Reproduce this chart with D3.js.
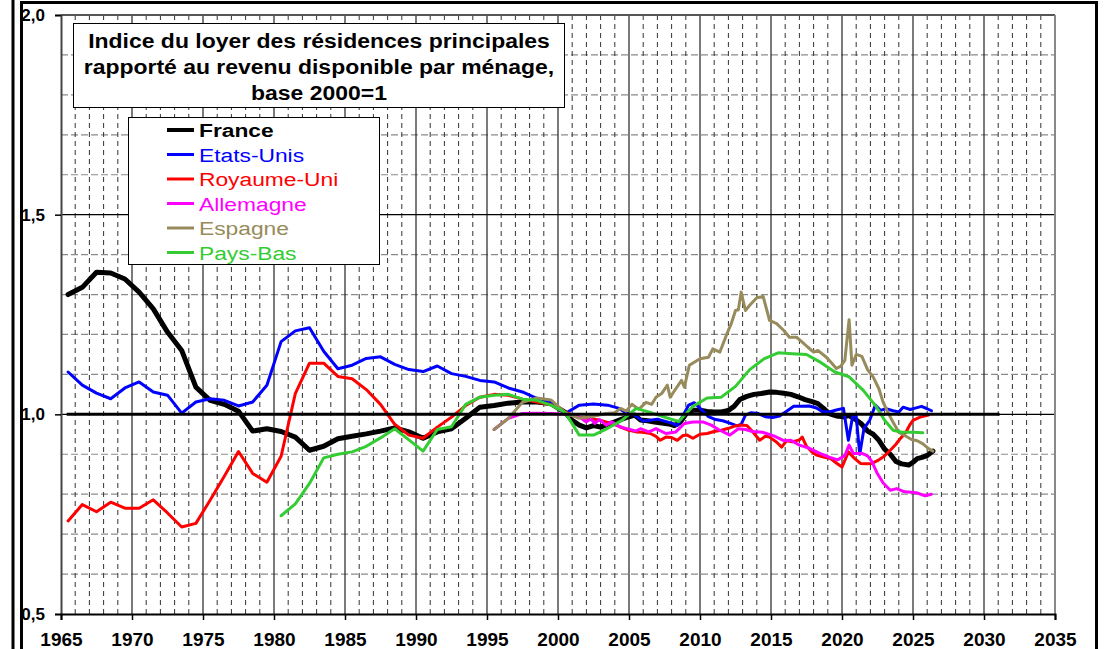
<!DOCTYPE html>
<html>
<head>
<meta charset="utf-8">
<script src="https://cdn.jsdelivr.net/npm/d3@7"></script>
<style>
  body { margin: 0; background: #fff; }
  svg { display: block; font-family: "Liberation Sans", Arial, sans-serif; }
</style>
</head>
<body>
<svg class="chart" width="1106" height="649"></svg>
<script>
// chart text
const titleLines = [
  'Indice du loyer des résidences principales',
  'rapporté au revenu disponible par ménage,',
  'base 2000=1'
];
const seriesNames = ['France', 'Etats-Unis', 'Royaume-Uni', 'Allemagne', 'Espagne', 'Pays-Bas'];
const seriesColors = ['#000000', '#0000ff', '#ff0000', '#ff00ff', '#978b5b', '#33cc33'];
const xTickYears = [1965, 1970, 1975, 1980, 1985, 1990, 1995, 2000, 2005, 2010, 2015, 2020, 2025, 2030, 2035];
const yTickValues = [0.5, 1.0, 1.5, 2.0];

// series values as [year, index]
const france = [
  [1965.5,1.300],[1966.5,1.318],[1967.5,1.356],[1968.5,1.354],[1969.5,1.339],[1970.5,1.306],
  [1971.5,1.264],[1972.5,1.206],[1973.5,1.160],[1974.5,1.068],[1975.5,1.035],[1976.5,1.025],
  [1977.5,1.008],[1978.5,0.958],[1979.5,0.964],[1980.5,0.957],[1981.5,0.943],[1982.5,0.910],
  [1983.5,0.920],[1984.5,0.939],[1985.5,0.945],[1986.5,0.951],[1987.5,0.958],[1988.5,0.966],
  [1989.5,0.956],[1990.5,0.940],[1991.5,0.956],[1992.5,0.964],[1993.5,0.990],[1994.5,1.018],
  [1995.5,1.022],[1996.5,1.028],[1997.5,1.031],[1998.5,1.031],[1999.5,1.027],[2000.5,1.005],
  [2001.0,0.985],[2001.5,0.973],[2002.0,0.966],[2002.5,0.972],[2003.0,0.968],[2003.5,0.975],
  [2004.0,0.981],[2004.5,0.988],[2005.0,0.994],[2005.4,0.998],[2005.8,0.986],[2006.3,0.984],
  [2006.8,0.981],[2007.3,0.978],[2007.8,0.976],[2008.2,0.972],[2008.6,0.980],[2009.1,1.005],
  [2009.5,1.010],[2010.0,1.010],[2010.5,1.007],[2011.0,1.006],[2011.5,1.006],[2012.0,1.010],
  [2012.4,1.020],[2012.8,1.037],[2013.3,1.045],[2013.8,1.050],[2014.3,1.052],[2014.9,1.056],
  [2015.4,1.055],[2015.9,1.053],[2016.4,1.050],[2016.9,1.044],[2017.4,1.037],[2017.9,1.032],
  [2018.3,1.027],[2018.7,1.015],[2019.1,1.002],[2019.6,0.996],[2020.1,0.994],[2020.5,0.997],
  [2021.0,0.986],[2021.4,0.975],[2021.8,0.958],[2022.2,0.950],[2022.6,0.935],[2023.0,0.913],
  [2023.4,0.900],[2023.8,0.882],[2024.2,0.876],[2024.7,0.873],[2025.0,0.880],[2025.3,0.889],
  [2025.7,0.893],[2026.0,0.897],[2026.4,0.908]
];
const etatsUnis = [
  [1965.5,1.106],[1966.5,1.073],[1967.5,1.053],[1968.5,1.039],[1969.5,1.066],[1970.5,1.081],
  [1971.5,1.056],[1972.5,1.048],[1973.5,1.003],[1974.5,1.031],[1975.5,1.039],[1976.5,1.035],
  [1977.5,1.021],[1978.5,1.031],[1979.5,1.073],[1980.5,1.182],[1981.5,1.209],[1982.5,1.217],
  [1983.5,1.158],[1984.5,1.114],[1985.5,1.123],[1986.5,1.140],[1987.5,1.144],[1988.5,1.125],
  [1989.5,1.112],[1990.5,1.107],[1991.5,1.121],[1992.5,1.102],[1993.5,1.095],[1994.5,1.085],
  [1995.5,1.081],[1996.5,1.066],[1997.5,1.056],[1998.5,1.040],[1999.5,1.031],[2000.5,1.002],
  [2001.5,1.023],[2002.5,1.026],[2003.5,1.023],[2004.3,1.015],[2004.8,1.003],[2005.3,1.000],
  [2006.0,0.983],[2006.5,0.985],[2007.0,0.988],[2007.5,0.983],[2008.0,0.978],[2008.4,0.972],
  [2008.7,0.990],[2009.2,1.023],[2009.6,1.029],[2010.1,1.012],[2010.6,0.994],[2011.1,0.987],
  [2011.6,0.984],[2012.1,0.978],[2012.6,0.971],[2012.9,0.975],[2013.2,0.998],[2013.6,1.004],
  [2014.1,1.002],[2014.6,0.994],[2015.1,0.992],[2015.6,0.996],[2016.1,1.008],[2016.6,1.020],
  [2017.1,1.020],[2017.7,1.021],[2018.2,1.016],[2018.6,1.007],[2019.1,1.006],[2019.6,1.011],
  [2020.1,1.015],[2020.45,0.935],[2020.75,0.995],[2021.0,0.995],[2021.25,0.900],[2021.55,0.965],
  [2021.95,0.985],[2022.35,1.023],[2022.7,1.010],[2023.1,1.014],[2023.6,1.009],[2024.0,1.006],
  [2024.3,1.018],[2024.8,1.012],[2025.1,1.015],[2025.6,1.020],[2026.0,1.014],[2026.3,1.009]
];
const royaumeUni = [
  [1965.5,0.733],[1966.5,0.774],[1967.5,0.756],[1968.5,0.780],[1969.5,0.765],[1970.5,0.765],
  [1971.5,0.786],[1972.5,0.753],[1973.5,0.718],[1974.5,0.727],[1975.5,0.785],[1976.5,0.845],
  [1977.5,0.907],[1978.5,0.852],[1979.5,0.830],[1980.5,0.895],[1981.5,1.052],[1982.5,1.128],
  [1983.5,1.128],[1984.5,1.095],[1985.5,1.089],[1986.5,1.062],[1987.5,1.025],[1988.5,0.975],
  [1989.5,0.948],[1990.5,0.940],[1991.5,0.968],[1992.5,0.993],[1993.5,1.022],[1994.5,1.043],
  [1995.5,1.050],[1996.5,1.048],[1997.5,1.038],[1998.5,1.031],[1999.5,1.024],[2000.5,1.006],
  [2001.0,0.998],[2001.5,0.993],[2002.0,0.990],[2002.5,0.988],[2003.0,0.985],[2003.5,0.980],
  [2004.0,0.974],[2004.5,0.967],[2005.0,0.960],[2005.5,0.956],[2006.0,0.955],[2006.5,0.952],
  [2006.9,0.945],[2007.2,0.935],[2007.6,0.943],[2008.0,0.942],[2008.4,0.935],[2008.8,0.947],
  [2009.1,0.948],[2009.5,0.940],[2010.0,0.950],[2010.5,0.952],[2011.0,0.957],[2011.5,0.960],
  [2012.0,0.965],[2012.4,0.970],[2012.8,0.973],[2013.3,0.972],[2013.7,0.957],[2014.2,0.935],
  [2014.6,0.945],[2014.9,0.943],[2015.4,0.930],[2015.75,0.918],[2016.1,0.934],[2016.5,0.931],
  [2017.0,0.936],[2017.2,0.943],[2017.5,0.920],[2017.9,0.905],[2018.2,0.898],[2018.7,0.893],
  [2019.2,0.889],[2019.6,0.878],[2020.0,0.868],[2020.45,0.906],[2020.9,0.889],[2021.3,0.877],
  [2021.7,0.876],[2022.1,0.877],[2022.5,0.884],[2022.9,0.893],[2023.4,0.910],[2023.8,0.925],
  [2024.1,0.939],[2024.5,0.955],[2024.8,0.975],[2025.0,0.985],[2025.5,0.993],[2026.1,0.998]
];
const allemagne = [
  [1995.5,0.962],[1996.5,0.990],[1997.5,1.002],[1998.5,1.003],[1999.5,1.002],[2000.5,1.000],
  [2001.0,0.997],[2001.5,0.993],[2002.0,0.981],[2002.3,0.989],[2002.6,0.977],[2002.9,0.987],
  [2003.4,0.973],[2003.8,0.981],[2004.4,0.968],[2005.0,0.963],[2005.5,0.958],[2005.8,0.964],
  [2006.4,0.956],[2006.9,0.964],[2007.6,0.952],[2008.3,0.956],[2008.9,0.977],[2009.5,0.981],
  [2010.2,0.981],[2010.8,0.973],[2011.3,0.962],[2012.1,0.948],[2012.7,0.964],[2013.2,0.962],
  [2013.7,0.957],[2014.4,0.955],[2015.2,0.946],[2015.9,0.934],[2016.4,0.935],[2017.0,0.923],
  [2017.7,0.915],[2018.4,0.903],[2019.1,0.893],[2019.7,0.886],[2020.2,0.897],[2020.5,0.923],
  [2020.8,0.902],[2021.4,0.902],[2021.8,0.896],[2022.1,0.882],[2022.5,0.851],[2022.9,0.828],
  [2023.4,0.810],[2023.85,0.814],[2024.4,0.806],[2024.9,0.805],[2025.3,0.803],[2025.85,0.796],
  [2026.3,0.800]
];
const espagne = [
  [1995.5,0.962],[1996.5,0.990],[1997.5,1.030],[1998.5,1.041],[1999.5,1.036],[2000.5,1.004],
  [2001.5,0.990],[2002.5,0.995],[2003.4,1.002],[2004.0,1.004],[2004.4,1.015],[2004.8,1.008],
  [2005.2,1.025],[2005.7,1.013],[2006.2,1.030],[2006.6,1.025],[2006.9,1.043],[2007.3,1.052],
  [2007.7,1.073],[2007.9,1.043],[2008.3,1.064],[2008.7,1.085],[2008.9,1.068],[2009.25,1.123],
  [2010.0,1.139],[2010.6,1.143],[2010.9,1.164],[2011.4,1.156],[2011.9,1.202],[2012.2,1.227],
  [2012.5,1.260],[2012.7,1.262],[2012.9,1.306],[2013.2,1.260],[2013.5,1.273],[2014.0,1.292],
  [2014.45,1.295],[2014.9,1.235],[2015.4,1.227],[2015.9,1.210],[2016.3,1.193],[2016.8,1.193],
  [2017.2,1.181],[2017.6,1.168],[2018.0,1.156],[2018.3,1.160],[2018.9,1.143],[2019.3,1.127],
  [2019.6,1.115],[2019.9,1.120],[2020.2,1.135],[2020.5,1.237],[2020.7,1.123],[2021.0,1.150],
  [2021.4,1.145],[2021.8,1.112],[2022.2,1.093],[2022.6,1.064],[2022.9,1.030],[2023.3,1.000],
  [2023.6,0.980],[2024.0,0.955],[2024.5,0.945],[2024.9,0.937],[2025.3,0.934],[2025.7,0.926],
  [2026.1,0.914],[2026.4,0.908]
];
const paysBas = [
  [1980.5,0.746],[1981.5,0.776],[1982.5,0.827],[1983.5,0.891],[1984.5,0.900],[1985.5,0.906],
  [1986.5,0.920],[1987.5,0.941],[1988.5,0.964],[1989.5,0.936],[1990.5,0.908],[1991.5,0.962],
  [1992.5,0.969],[1993.5,1.025],[1994.5,1.043],[1995.5,1.048],[1996.5,1.050],[1997.5,1.038],
  [1998.5,1.035],[1999.5,1.023],[2000.5,1.005],[2001.5,0.948],[2002.5,0.948],[2003.5,0.965],
  [2004.5,0.985],[2005.5,1.015],[2006.5,1.005],[2007.5,0.993],[2008.5,0.982],[2009.5,1.020],
  [2010.5,1.041],[2011.5,1.043],[2012.5,1.070],[2013.5,1.112],[2014.5,1.139],[2015.5,1.154],
  [2016.5,1.152],[2017.5,1.150],[2018.5,1.130],[2019.5,1.106],[2020.5,1.094],[2021.5,1.060],
  [2022.4,1.020],[2023.0,0.985],[2023.6,0.960],[2024.2,0.955],[2025.0,0.955],[2025.7,0.954]
];
const baseLine = [[1965.4,1.0],[2031.1,1.0]];

const allSeries = [france, etatsUnis, royaumeUni, allemagne, espagne, paysBas];

const svg = d3.select('.chart');

const x = d3.scaleLinear().domain([1965, 2035]).range([61, 1055]);
const y = d3.scaleLinear().domain([0.5, 2.0]).range([614, 15]);

svg.append('rect').attr('width', 1106).attr('height', 649).attr('fill', '#fff');

// frame around the picture
svg.append('line').attr('x1', 13).attr('x2', 13).attr('y1', 0).attr('y2', 649)
  .attr('stroke', '#000').attr('stroke-width', 3);
svg.append('path').attr('d', 'M21.5,660V2.5H1096.5V660')
  .attr('fill', 'none').attr('stroke', '#000').attr('stroke-width', 3);

// grid
const grid = svg.append('g');
const minorYears = d3.range(1966, 2035).filter(v => v % 5 !== 0);
const minorVals = d3.range(6, 20).filter(v => v % 5 !== 0).map(v => v / 10);

grid.selectAll('.hminor').data(minorVals).join('line')
  .attr('x1', x(1965)).attr('x2', x(2035))
  .attr('y1', d => y(d)).attr('y2', d => y(d))
  .attr('stroke', '#8a8a8a').attr('stroke-width', 1.2).attr('stroke-dasharray', '7,3');

grid.selectAll('.vminor').data(minorYears).join('line')
  .attr('x1', d => x(d)).attr('x2', d => x(d))
  .attr('y1', y(2.0)).attr('y2', y(0.5))
  .attr('stroke', '#333').attr('stroke-width', 1).attr('stroke-dasharray', '5,4');

grid.selectAll('.vmajor').data(xTickYears.slice(1, -1)).join('line')
  .attr('x1', d => x(d)).attr('x2', d => x(d))
  .attr('y1', y(2.0)).attr('y2', y(0.5))
  .attr('stroke', '#222').attr('stroke-width', 1.2);

grid.append('line').attr('x1', x(1965)).attr('x2', x(2035))
  .attr('y1', y(1.5)).attr('y2', y(1.5)).attr('stroke', '#000').attr('stroke-width', 1.2);
grid.append('line').attr('x1', x(1965)).attr('x2', x(2035))
  .attr('y1', y(1.0)).attr('y2', y(1.0)).attr('stroke', '#000').attr('stroke-width', 1.2);
grid.append('line').attr('x1', x(1965)).attr('x2', x(2035))
  .attr('y1', y(2.0)).attr('y2', y(2.0)).attr('stroke', '#555').attr('stroke-width', 2);
grid.append('line').attr('x1', x(2035)).attr('x2', x(2035))
  .attr('y1', y(2.0)).attr('y2', y(0.5)).attr('stroke', '#888').attr('stroke-width', 2);

// axes
const fmt = d => d3.format('.1f')(d).replace('.', ',');
const yAxis = svg.append('g').attr('transform', 'translate(' + x(1965) + ',0)')
  .call(d3.axisLeft(y).tickValues(yTickValues).tickFormat(fmt).tickSize(6).tickPadding(10));
yAxis.select('.domain').attr('stroke', '#444').attr('stroke-width', 2);
yAxis.selectAll('.tick line').attr('stroke', '#000').attr('stroke-width', 1.5);
yAxis.selectAll('text').attr('font-size', 17).attr('font-weight', 'bold')
  .attr('font-family', '"Liberation Sans", Arial, sans-serif').attr('fill', '#000');

const xAxis = svg.append('g').attr('transform', 'translate(0,' + y(0.5) + ')')
  .call(d3.axisBottom(x).tickValues(xTickYears).tickFormat(d3.format('d')).tickSize(6).tickPadding(13));
xAxis.select('.domain').attr('stroke', '#000').attr('stroke-width', 2);
xAxis.selectAll('.tick line').attr('stroke', '#000').attr('stroke-width', 1.5);
xAxis.selectAll('text').attr('font-size', 19).attr('font-weight', 'bold')
  .attr('font-family', '"Liberation Sans", Arial, sans-serif').attr('fill', '#000');

// series
const line = d3.line()
  .x(d => x(d[0]))
  .y(d => y(d[1]));

const lines = svg.append('g');
allSeries.forEach((s, i) => {
  lines.append('path')
    .attr('d', line(s))
    .attr('fill', 'none')
    .attr('stroke', seriesColors[i])
    .attr('stroke-width', i === 0 ? 5 : 3)
    .attr('stroke-linejoin', 'round')
    .attr('stroke-linecap', 'round');
});
lines.append('path')
  .attr('d', line(baseLine))
  .attr('fill', 'none')
  .attr('stroke', '#000')
  .attr('stroke-width', 3);

// title box
svg.append('rect').attr('x', 73.5).attr('y', 23.5).attr('width', 491).attr('height', 84)
  .attr('fill', '#fff').attr('stroke', '#000').attr('stroke-width', 1);
titleLines.forEach((t, i) => {
  svg.append('g')
    .attr('transform', 'translate(319,' + (48 + i * 26) + ') scale(1.12,1)')
    .append('text')
    .attr('text-anchor', 'middle')
    .attr('font-size', 20.5)
    .attr('font-weight', 'bold')
    .text(t);
});

// legend
svg.append('rect').attr('x', 128.5).attr('y', 117.5).attr('width', 251).attr('height', 147)
  .attr('fill', '#fff').attr('stroke', '#000').attr('stroke-width', 1);
seriesNames.forEach((name, i) => {
  const base = 137 + i * 24.5;
  svg.append('line')
    .attr('x1', 167).attr('x2', 194)
    .attr('y1', base - 7).attr('y2', base - 7)
    .attr('stroke', seriesColors[i])
    .attr('stroke-width', i === 0 ? 4 : 3);
  svg.append('g')
    .attr('transform', 'translate(199,' + base + ') scale(1.2,1)')
    .append('text')
    .attr('font-size', 19)
    .attr('font-weight', i === 0 ? 'bold' : 'normal')
    .attr('fill', seriesColors[i])
    .text(name);
});
</script>
</body>
</html>
